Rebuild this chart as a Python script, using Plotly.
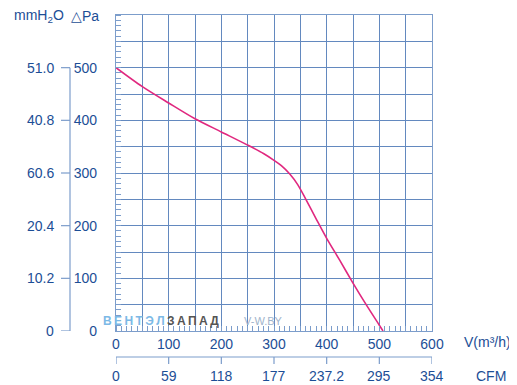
import plotly.graph_objects as go

# ---- data ----
flow_m3h = [0, 50, 100, 150, 200, 250, 280, 300, 315, 330, 345, 360, 380, 400, 425, 450, 475, 500, 507]
pressure_pa = [500, 464, 433, 403, 378, 353, 337, 324, 313, 298, 278, 251, 213, 176, 134, 91, 50, 11, 0]

x_tick_vals = [0, 50, 100, 150, 200, 250, 300, 350, 400, 450, 500, 550, 600]
x_tick_text = ["0", "", "100", "", "200", "", "300", "", "400", "", "500", "", "600"]
y_tick_vals = [0, 50, 100, 150, 200, 250, 300, 350, 400, 450, 500, 550, 600]
y_tick_text = ["0", "", "100", "", "200", "", "300", "", "400", "", "500", "", ""]

mmh2o_pos = [0, 100, 200, 300, 400, 500]
mmh2o_labels = ["0", "10.2", "20.4", "60.6", "40.8", "51.0"]

cfm_pos = [0, 100, 200, 300, 400, 500, 600]
cfm_labels = ["0", "59", "118", "177", "237.2", "295", "354"]

TXT = "#1c4e96"
GRID = "#6389bf"
AX = "#7c9dcb"
FONT = "Liberation Sans, Arial, sans-serif"

OFF = 8  # page body margin
W, H = 517 - OFF, 385 - OFF
L, T = 116 - OFF, 15 - OFF
R = W - (432 - OFF)
B = H - (331 - OFF)
PW = W - L - R
PH = H - T - B


def px_x(px):
    return (px - OFF - L) / PW


def px_y(py):
    return 1 - (py - OFF - T) / PH


fig = go.Figure()
fig.add_trace(go.Scatter(
    x=flow_m3h, y=pressure_pa, mode="lines",
    line=dict(color="#e0287f", width=1.6, shape="spline", smoothing=0.8),
    hoverinfo="skip", showlegend=False,
))

shapes = []
annotations = []

# mmH2O secondary scale (bracket + ticks + labels)
shapes.append(dict(type="line", xref="paper", yref="y", x0=px_x(70), x1=px_x(70),
                   y0=0, y1=500, line=dict(color=AX, width=1.2)))
for v, t in zip(mmh2o_pos, mmh2o_labels):
    shapes.append(dict(type="line", xref="paper", yref="y", x0=px_x(61), x1=px_x(70),
                       y0=v, y1=v, line=dict(color=AX, width=1.2)))
    annotations.append(dict(x=px_x(56), y=v, xref="paper", yref="y", text=t,
                            showarrow=False, xanchor="right", yanchor="middle",
                            font=dict(size=14, color=TXT, family=FONT)))

# CFM secondary scale
cfm_y = px_y(357)
shapes.append(dict(type="line", xref="x", yref="paper", x0=0, x1=600,
                   y0=cfm_y, y1=cfm_y, line=dict(color=AX, width=1.2)))
for v, t in zip(cfm_pos, cfm_labels):
    shapes.append(dict(type="line", xref="x", yref="paper", x0=v, x1=v,
                       y0=cfm_y, y1=px_y(364), line=dict(color=AX, width=1.2)))
    annotations.append(dict(x=v, y=px_y(376), xref="x", yref="paper", text=t,
                            showarrow=False, xanchor="center", yanchor="middle",
                            font=dict(size=14, color=TXT, family=FONT)))

# unit labels
annotations += [
    dict(x=px_x(12), y=px_y(16), xref="paper", yref="paper", text="mmH<sub>2</sub>O",
         showarrow=False, xanchor="left", yanchor="middle",
         font=dict(size=14, color=TXT, family=FONT)),
    dict(x=px_x(69), y=px_y(16), xref="paper", yref="paper", text="△Pa",
         showarrow=False, xanchor="left", yanchor="middle",
         font=dict(size=14, color=TXT, family=FONT)),
    dict(x=px_x(513), y=px_y(342), xref="paper", yref="paper", text="V(m³/h)",
         showarrow=False, xanchor="right", yanchor="middle",
         font=dict(size=14, color=TXT, family=FONT)),
    dict(x=px_x(474), y=px_y(376), xref="paper", yref="paper", text="CFM",
         showarrow=False, xanchor="left", yanchor="middle",
         font=dict(size=14, color=TXT, family=FONT)),
]

# watermark
ts = "\u2009"
annotations += [
    dict(x=px_x(101), y=px_y(321), xref="paper", yref="paper",
         text="<b><span style='color:#7cb9e6'>" + ts.join("ВЕНТЭЛ") + "</span>" + ts +
              "<span style='color:#555555'>" + ts.join("ЗАПАД") + "</span></b>",
         showarrow=False, xanchor="left", yanchor="middle",
         font=dict(size=12, family=FONT)),
    dict(x=px_x(242), y=px_y(321), xref="paper", yref="paper", text="V-W.BY",
         showarrow=False, xanchor="left", yanchor="middle",
         font=dict(size=11, color="#9fb4cc", family=FONT)),
]

fig.update_layout(
    width=W, height=H,
    margin=dict(l=L, r=R, t=T, b=B),
    paper_bgcolor="white", plot_bgcolor="white",
    font=dict(family=FONT, color=TXT, size=14),
    shapes=shapes, annotations=annotations,
    xaxis=dict(
        range=[0, 600], tickvals=x_tick_vals, ticktext=x_tick_text,
        showgrid=True, gridcolor=GRID, gridwidth=1, zeroline=False,
        showline=True, linecolor=AX, linewidth=1.2, mirror=True,
        ticks="", tickfont=dict(size=14, color=TXT),
        minor=dict(dtick=10, ticks="inside", ticklen=5, tickcolor=AX, showgrid=False),
        fixedrange=True,
    ),
    yaxis=dict(
        range=[0, 600], tickvals=y_tick_vals, ticktext=y_tick_text,
        showgrid=True, gridcolor=GRID, gridwidth=1, zeroline=False,
        showline=True, linecolor=AX, linewidth=1.2, mirror=True,
        ticks="", tickfont=dict(size=14, color=TXT), ticklabelstandoff=15,
        minor=dict(dtick=10, ticks="inside", ticklen=5, tickcolor=AX, showgrid=False),
        fixedrange=True,
    ),
)

fig.write_html("out.html")
